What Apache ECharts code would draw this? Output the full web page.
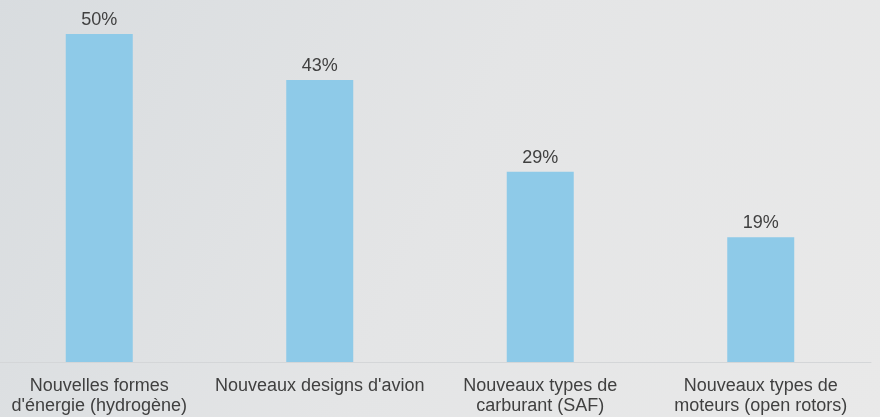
<!DOCTYPE html>
<html><head><meta charset="utf-8">
<script src="https://cdn.jsdelivr.net/npm/echarts@6/dist/echarts.min.js"></script>
<style>html,body{margin:0;padding:0;overflow:hidden;width:880px;height:417px;}#c{width:891px;height:417px;margin-left:-11px;}</style>
</head><body><div id="c"></div>
<script>
const categories = ["Nouvelles formes\nd'énergie (hydrogène)", "Nouveaux designs d'avion", "Nouveaux types de\ncarburant (SAF)", "Nouveaux types de\nmoteurs (open rotors)"];
const values = [50, 43, 29, 19];

const chart = echarts.init(document.getElementById('c'));
chart.setOption({
  backgroundColor: new echarts.graphic.LinearGradient(0, 0, 1, 1, [
    {offset: 0, color: '#d8dcdf'},
    {offset: 0.5, color: '#e4e5e6'},
    {offset: 1, color: '#e9e9e9'}
  ]),
  animation: false,
  grid: {left: 0, right: 9, top: 34, bottom: 55, containLabel: false},
  xAxis: {
    type: 'category', data: categories,
    axisTick: {show: false},
    axisLine: {lineStyle: {color: '#d4d6d8', width: 1}},
    axisLabel: {color: '#404040', fontSize: 18, fontFamily: 'Liberation Sans, Arial', lineHeight: 20, margin: 14, interval: 0}
  },
  yAxis: {type: 'value', min: 0, max: 50, show: false, splitLine: {show: false}},
  series: [{
    type: 'bar', data: values, barWidth: 67,
    itemStyle: {color: '#8ecae8'},
    label: {show: true, position: 'top', formatter: '{c}%', color: '#404040', fontSize: 18, fontFamily: 'Liberation Sans, Arial', distance: 5}
  }]
});
</script></body></html>
